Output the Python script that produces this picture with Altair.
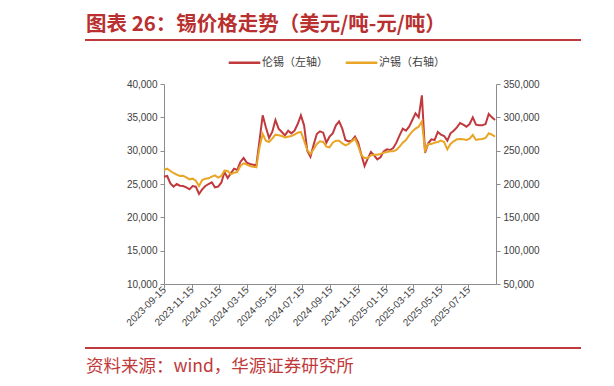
import altair as alt
import pandas as pd

# LME tin (USD/t, left axis), weekly readings
red = [26100, 26200, 25100, 24600, 25000, 24750, 24700, 24500, 24200, 24700,
       24600, 23500, 24200, 24700, 25000, 25250, 24500, 24600, 25200, 26800,
       25900, 26600, 27300, 27100, 28300, 28900, 28200, 28000, 27900, 27800,
       31500, 35300, 33500, 31900, 32800, 34600, 33300, 32800, 32300, 33000,
       32600, 33000, 34000, 35300, 33800, 30000, 29100, 30900, 32500, 32900,
       32700, 31200, 32100, 32600, 33800, 34400, 33300, 31600, 31400, 31500,
       32100, 31200, 29400, 27700, 28800, 29800, 29300, 28700, 29000, 29900,
       30200, 30100, 30400, 31200, 32300, 33300, 33000, 33600, 34600, 35600,
       35000, 38300, 29700, 31100, 31700, 31600, 32800, 32400, 32200, 31500,
       32600, 33000, 33500, 34150, 33900, 33600, 34000, 35000, 33900, 33800,
       33800, 34000, 35500, 35000, 34600]

# SHFE tin (CNY/t, right axis), weekly readings
yellow = [221000, 223000, 219500, 216500, 214000, 212000, 212500, 210000, 207000, 208000,
          205000, 197000, 206000, 208000, 208500, 211000, 213000, 209500, 212000, 220000,
          219500, 214500, 217000, 218000, 227000, 231000, 229000, 227000, 226000, 225000,
          255000, 275000, 265000, 263000, 268000, 274000, 273000, 272000, 270000, 271000,
          272000, 274000, 277000, 278000, 265000, 251000, 245000, 252000, 260000, 264000,
          263000, 256000, 255000, 262000, 265000, 265000, 261000, 258000, 260000, 264000,
          268000, 257000, 243000, 239000, 239000, 243000, 244000, 244000, 245000, 247000,
          248000, 249000, 249000, 251000, 256000, 262000, 266000, 273000, 279000, 283000,
          286000, 294000, 250000, 260000, 260000, 262000, 263000, 265000, 263000, 252000,
          260000, 264000, 267000, 267500, 267000, 266000, 268000, 273500, 266000, 267000,
          267500, 269000, 276000, 274000, 271000]

dates = pd.date_range("2023-09-15", periods=len(red), freq="7D").strftime("%Y-%m-%d").tolist()

tick_dates = ["2023-09-15", "2023-11-15", "2024-01-15", "2024-03-15", "2024-05-15",
              "2024-07-15", "2024-09-15", "2024-11-15", "2025-01-15", "2025-03-15",
              "2025-05-15", "2025-07-15"]
x_domain = ["2023-09-15", "2025-09-14"]
left_ticks = [10000, 15000, 20000, 25000, 30000, 35000, 40000]
right_ticks = [50000, 100000, 150000, 200000, 250000, 300000, 350000]
series_names = ["伦锡（左轴）", "沪锡（右轴）"]
colors = ["#C0393D", "#E8A526"]
title_text = ["图表 26：锡价格走势（美元/吨-元/吨）"]
source_text = ["资料来源：wind，华源证券研究所"]
accent = "#C0393B"


def dt(s):
    y, m, d = (int(v) for v in s.split("-"))
    return alt.DateTime(year=y, month=m, date=d, utc=True)


df = pd.DataFrame({"date": dates, "lme": red, "shfe": yellow})

x_enc = alt.X(
    "date:T",
    scale=alt.Scale(type="utc", domain=[dt(s) for s in x_domain]),
    axis=alt.Axis(values=[dt(s) for s in tick_dates],
                  labelExpr="utcFormat(datum.value, '%Y-%m-%d')",
                  labelOverlap=False, labelBound=False, labelFlush=False,
                  labelAngle=-45, labelAlign="right", labelBaseline="middle",
                  labelPadding=0, tickSize=4, grid=False, title=None),
)

color_scale = alt.Scale(domain=series_names, range=colors)

base = alt.Chart(df)

red_line = base.transform_calculate(series=f"'{series_names[0]}'").mark_line(
    strokeWidth=2, interpolate="linear"
).encode(
    x=x_enc,
    y=alt.Y("lme:Q", scale=alt.Scale(domain=[10000, 40000], nice=False, zero=False),
            axis=alt.Axis(orient="left", values=left_ticks, format=",d", grid=False,
                          title=None, tickSize=4, labelPadding=3)),
    color=alt.Color("series:N", scale=color_scale,
                    legend=alt.Legend(title=None, orient="none", legendX=63, legendY=-39,
                                      direction="horizontal", symbolType="stroke",
                                      symbolSize=1000, symbolStrokeWidth=2.5,
                                      labelFont="Noto Sans CJK SC", labelFontSize=11,
                                      labelColor="#404040", columnPadding=12,
                                      labelOffset=0, labelLimit=200)),
)

yellow_line = base.transform_calculate(series=f"'{series_names[1]}'").mark_line(
    strokeWidth=2, interpolate="linear"
).encode(
    x=x_enc,
    y=alt.Y("shfe:Q", scale=alt.Scale(domain=[50000, 350000], nice=False, zero=False),
            axis=alt.Axis(orient="right", values=right_ticks, format=",d", grid=False,
                          title=None, tickSize=4, labelPadding=3)),
    color=alt.Color("series:N", scale=color_scale),
)

lines = alt.layer(red_line, yellow_line).resolve_scale(y="independent")

title_mark = alt.Chart(pd.DataFrame({"t": title_text})).mark_text(
    align="left", baseline="middle", font="Noto Sans CJK SC", fontSize=20.5,
    fontWeight="bold", color="#B8302F"
).encode(text="t:N", x=alt.value(-78), y=alt.value(-59))

source_mark = alt.Chart(pd.DataFrame({"t": source_text})).mark_text(
    align="left", baseline="middle", font="Noto Sans CJK SC", fontSize=17.5,
    color=accent
).encode(text="t:N", x=alt.value(-78), y=alt.value(283))

rule_df = pd.DataFrame({"k": [0]})
top_rule = alt.Chart(rule_df).mark_rule(color=accent, strokeWidth=2.2).encode(
    x=alt.value(-79), x2=alt.value(417), y=alt.value(-44))
bottom_rule = alt.Chart(rule_df).mark_rule(color=accent, strokeWidth=2.2).encode(
    x=alt.value(-79), x2=alt.value(417), y=alt.value(264))

chart = alt.layer(
    lines, title_mark, source_mark, top_rule, bottom_rule
).properties(
    width=332, height=200,
    autosize=alt.AutoSizeParams(type="none"),
    padding={"left": 156, "top": 76, "right": 104, "bottom": 92},
).configure_view(stroke=None).configure_axis(
    domainColor="#8C8C8C", tickColor="#8C8C8C", labelColor="#404040",
    labelFont="Liberation Sans", labelFontSize=10, domainWidth=1,
)

chart.save("out.html", embed_options={"renderer": "svg", "actions": False})
